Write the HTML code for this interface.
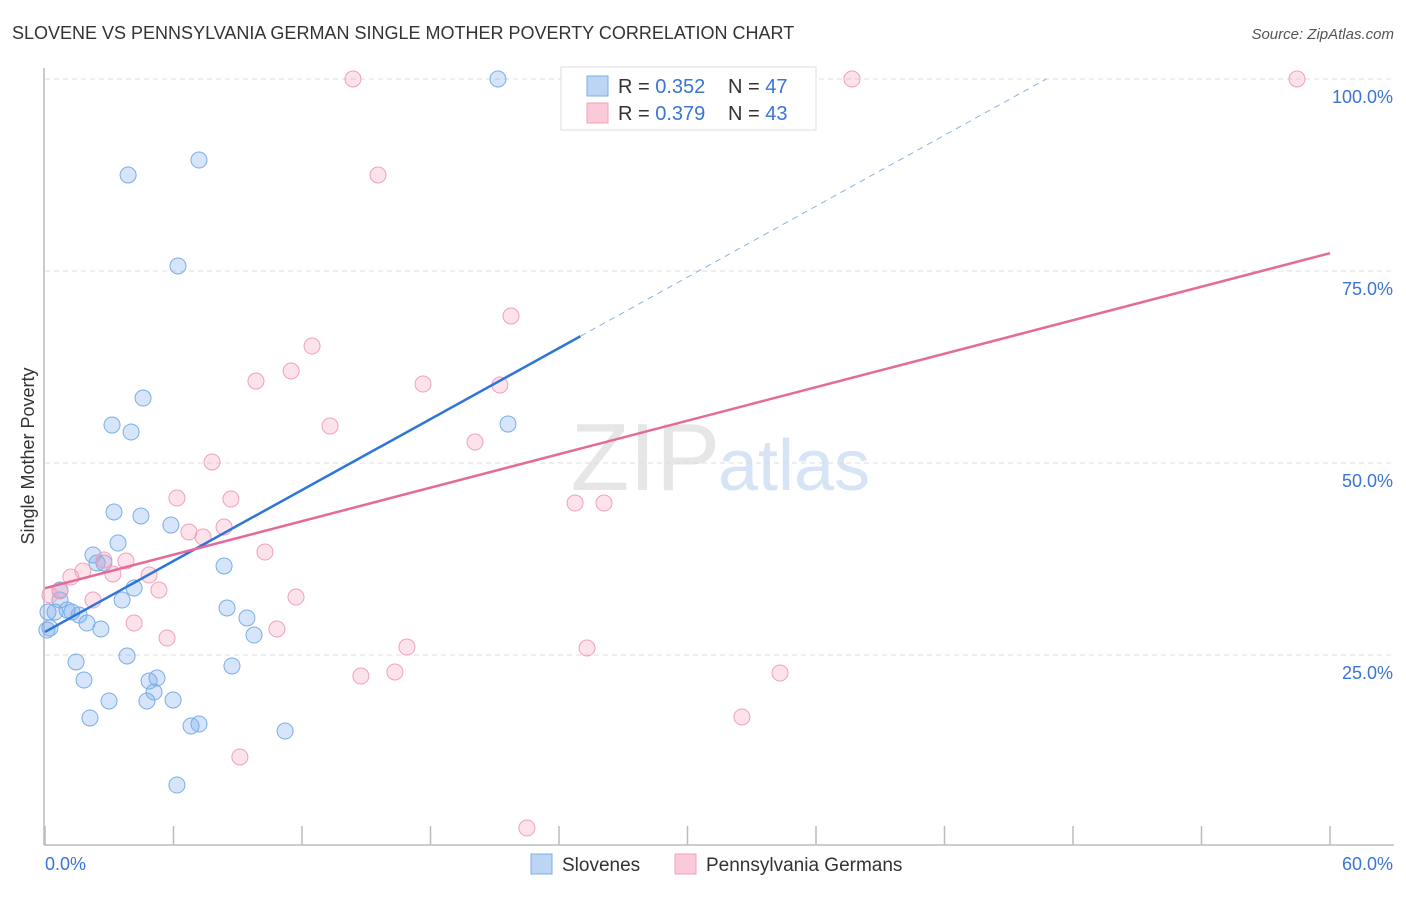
<!DOCTYPE html>
<html><head><meta charset="utf-8"><style>
body{margin:0;background:#fff;font-family:"Liberation Sans",sans-serif;}
svg text{font-family:"Liberation Sans",sans-serif;}
</style></head><body>
<svg id="chart" width="1406" height="892">
<text x="12" y="39" font-size="18" fill="#333">SLOVENE VS PENNSYLVANIA GERMAN SINGLE MOTHER POVERTY CORRELATION CHART</text>
<text x="1394" y="39" font-size="15" fill="#555" font-style="italic" text-anchor="end">Source: ZipAtlas.com</text>
<text x="720" y="490" font-size="96" fill="#e6e6e6" text-anchor="end" font-family="Liberation Serif">ZIP</text>
<text x="718" y="490" font-size="72" fill="#d6e4f5">atlas</text>
<g id="grid"></g>
<g id="axes"></g>
<g id="points"></g>
<g id="lines"></g>
<text transform="translate(34,456) rotate(-90)" font-size="18" fill="#333" text-anchor="middle">Single Mother Poverty</text>
<g>
<rect x="561" y="67" width="255" height="63" fill="#fff" stroke="#ddd"/>
<rect x="587" y="76" width="21" height="20" fill="#bcd5f5" stroke="#7aaee8"/>
<rect x="587" y="103" width="21" height="20" fill="#fbcad8" stroke="#f0a0bc"/>
<text x="618" y="93" font-size="20" fill="#333">R = <tspan fill="#3a74d4">0.352</tspan></text>
<text x="728" y="93" font-size="20" fill="#333">N = <tspan fill="#3a74d4">47</tspan></text>
<text x="618" y="120" font-size="20" fill="#333">R = <tspan fill="#3a74d4">0.379</tspan></text>
<text x="728" y="120" font-size="20" fill="#333">N = <tspan fill="#3a74d4">43</tspan></text>
</g>
<g>
<rect x="531" y="854" width="21" height="20" fill="#bcd5f5" stroke="#7aaee8"/>
<text x="562" y="871" font-size="19" fill="#333">Slovenes</text>
<rect x="675" y="854" width="21" height="20" fill="#fbcad8" stroke="#f0a0bc"/>
<text x="706" y="871" font-size="19" fill="#333">Pennsylvania Germans</text>
</g>
</svg>
<script>
const blueX=[21.15,7.19,3.88,6.21,4.58,3.13,4.02,21.62,3.22,4.48,5.88,3.41,2.24,2.43,2.75,8.36,4.16,3.60,0.70,0.14,0.47,1.03,1.26,1.59,1.96,2.61,0.23,0.09,8.50,9.43,9.76,3.83,1.45,8.73,1.82,5.23,4.86,5.09,2.99,4.76,5.98,2.10,6.82,7.19,11.21,6.16,0.70];
const blueY=[100,89.45,87.5,75.65,58.46,54.94,54.03,55.07,43.62,43.10,41.92,39.58,38.02,36.98,36.98,36.59,33.72,32.16,32.16,30.60,30.60,30.86,30.60,30.21,29.16,28.38,28.51,28.25,31.12,29.82,27.60,24.87,24.09,23.57,21.74,22.00,21.61,20.18,19.01,19.01,19.14,16.80,15.76,16.01,15.10,8.07,33.46];
const pinkX=[14.38,37.68,58.46,15.55,21.76,12.47,9.85,11.49,17.65,21.24,13.31,20.08,7.80,6.16,8.68,24.75,26.10,8.36,6.72,7.38,10.27,3.78,2.75,1.77,4.86,1.21,3.17,0.70,5.32,2.24,11.72,4.16,10.83,5.70,16.90,25.31,16.34,14.75,34.32,32.54,9.10,22.50,0.23];
const pinkY=[100,100,100,87.5,69.14,65.23,60.67,61.98,60.28,60.15,54.81,52.73,50.13,45.44,45.31,44.79,44.79,41.66,41.01,40.36,38.41,37.24,37.37,35.94,35.41,35.15,35.55,33.33,33.46,32.16,32.55,29.16,28.38,27.21,26.04,25.91,22.79,22.26,22.65,16.93,11.72,2.47,32.81];
const yTicks=[25,50,75,100];
const yTickLabels=["25.0%","50.0%","75.0%","100.0%"];
const xTicks=[0,6,12,18,24,30,36,42,48,54,60];
const blueFit=[28.0,1.54];   // intercept, slope
const blueSolidEnd=25;
const pinkFit=[33.7,0.727];
const NS="http://www.w3.org/2000/svg";
const sx=v=>45+v*(1285/60);
const sy=v=>847-v*7.68;
function mk(tag,attrs,parent){const e=document.createElementNS(NS,tag);for(const k in attrs)e.setAttribute(k,attrs[k]);document.getElementById(parent).appendChild(e);return e;}
yTicks.forEach((t,i)=>{
  const l=mk('line',{x1:45,x2:1394,y1:sy(t),y2:sy(t),stroke:'#ddd','stroke-dasharray':'5,4'},'grid');
  
  
  const tx=mk('text',{x:1393,y:sy(t)+24,'font-size':18,fill:'#3a74d4','text-anchor':'end'},'grid');
  tx.textContent=yTickLabels[i];
  
  
});
const ax=mk('line',{x1:44,x2:1394,y1:845,y2:845,stroke:'#bbb','stroke-width':1.5},'axes');


const ay=mk('line',{x1:44,x2:44,y1:68,y2:845,stroke:'#bbb','stroke-width':1.5},'axes');


xTicks.forEach(t=>{
  const l=mk('line',{x1:sx(t),x2:sx(t),y1:826,y2:845,stroke:'#bbb','stroke-width':1.5},'axes');
  
  
});
const xl0=mk('text',{x:45,y:870,'font-size':18,fill:'#3a74d4'},'axes');xl0.textContent="0.0%";


const xl1=mk('text',{x:1393,y:870,'font-size':18,fill:'#3a74d4','text-anchor':'end'},'axes');xl1.textContent="60.0%";


blueX.forEach((x,i)=>{
  const c=mk('circle',{cx:sx(x),cy:sy(blueY[i]),r:8,fill:'rgba(120,170,235,0.3)',stroke:'#7aaee8','stroke-width':1},'points');
  
  
});
pinkX.forEach((x,i)=>{
  const c=mk('circle',{cx:sx(x),cy:sy(pinkY[i]),r:8,fill:'rgba(245,160,190,0.3)',stroke:'#f0a0bc','stroke-width':1},'points');
  
  
});
const bEnd=(100-blueFit[0])/blueFit[1];
const bl=mk('line',{x1:sx(0),y1:sy(blueFit[0]),x2:sx(blueSolidEnd),y2:sy(blueFit[0]+blueFit[1]*blueSolidEnd),stroke:'#2f74d8','stroke-width':2.5},'lines');


const bd=mk('line',{x1:sx(blueSolidEnd),y1:sy(blueFit[0]+blueFit[1]*blueSolidEnd),x2:sx(bEnd),y2:sy(100),stroke:'#8ab2e6','stroke-width':1,'stroke-dasharray':'6,5'},'lines');


const pl=mk('line',{x1:sx(0),y1:sy(pinkFit[0]),x2:sx(60),y2:sy(pinkFit[0]+pinkFit[1]*60),stroke:'#e56b96','stroke-width':2.5},'lines');


</script>
</body></html>
